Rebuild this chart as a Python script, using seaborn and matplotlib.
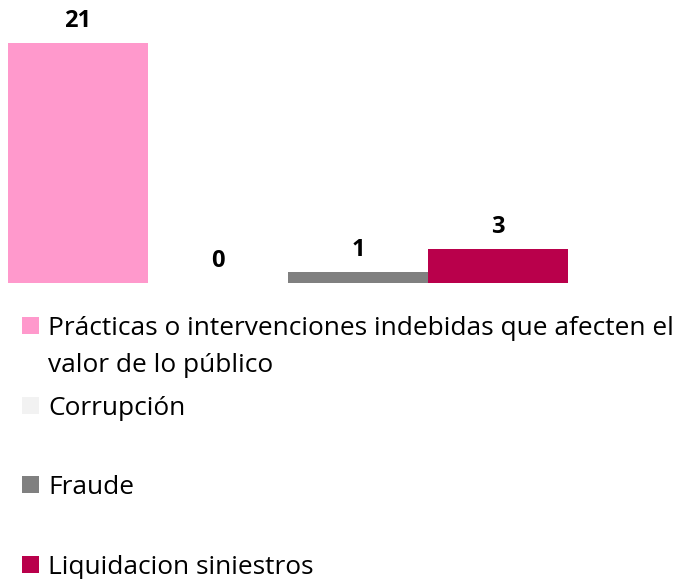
import matplotlib
matplotlib.use('Agg')
import matplotlib.pyplot as plt
import seaborn as sns
from matplotlib.patches import Rectangle

# datos del grafico
categorias = ['Prácticas o intervenciones indebidas que afecten el\nvalor de lo público',
              'Corrupción', 'Fraude', 'Liquidacion siniestros']
valores = [21, 0, 1, 3]
colores = ['#FF99CC', '#F2F2F2', '#808080', '#B9004B']

W, H = 677, 579
sns.set_theme(style='white')
plt.rcParams['font.family'] = ['Open Sans', 'DejaVu Sans']

fig = plt.figure(figsize=(W / 100, H / 100), dpi=100)
# eje en pixeles: barras de x=8 a 568, base y=283, tope y=43
ax = fig.add_axes([8 / W, 1 - 283 / H, 560 / W, 240 / H])

sns.barplot(x=list(range(len(valores))), y=valores, hue=list(range(len(valores))),
            palette=colores, width=1, legend=False, saturation=1, linewidth=0, ax=ax)
ax.set_ylim(0, max(valores))
ax.set_xlim(-0.5, len(valores) - 0.5)
for cont in ax.containers:
    ax.bar_label(cont, fontsize=17, fontweight='bold', color='black', padding=7)
ax.axis('off')

# leyenda dibujada a mano, debajo del grafico (centro de cada cuadrado en px)
fila_y = [325.5, 405.5, 484.5, 564.5]
for nombre, color, yc in zip(categorias, colores, fila_y):
    fig.patches.append(Rectangle((22 / W, 1 - (yc + 8.5) / H), 17 / W, 17 / H,
                                 transform=fig.transFigure, color=color, lw=0))
    for j, linea in enumerate(nombre.split('\n')):
        fig.text(48 / W, 1 - (yc + 9.5 + j * 37) / H, linea, fontsize=18.9,
                 color='black', va='baseline', ha='left')

fig.savefig('out.png', dpi=100)
